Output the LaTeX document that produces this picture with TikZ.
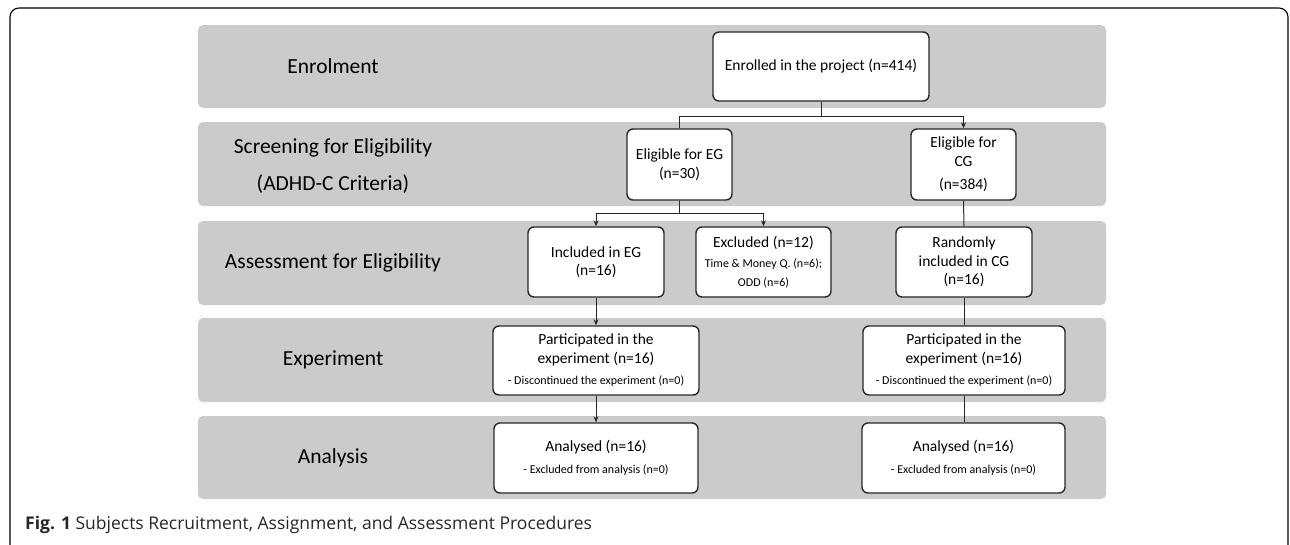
\documentclass[tikz,border=0pt]{standalone}
\usepackage{fontspec}
\setmainfont{Carlito}
\newfontfamily\capfont{Open Sans}
\usetikzlibrary{arrows.meta}
\definecolor{bandgray}{RGB}{203,203,203}
\definecolor{linegray}{RGB}{40,40,40}
\tikzset{
  band/.style={fill=bandgray, draw=none, rounded corners=5pt},
  bandlabel/.style={font=\fontsize{21.5}{26}\selectfont, align=center, text=black},
  box/.style={draw=linegray, line width=1.4pt, fill=white, rounded corners=6pt, align=center, inner sep=0pt, font=\fontsize{15.5}{18.5}\selectfont},
  conn/.style={draw=linegray, line width=1pt},
  arr/.style={conn, -{Stealth[length=6pt,width=5pt]}}
}
\newcommand{\sm}{\fontsize{12}{14}\selectfont}
\begin{document}
\begin{tikzpicture}[x=1pt,y=-1pt]
\useasboundingbox (0,0) rectangle (1290,544);
% outer frame
\draw[line width=1.1pt, rounded corners=9pt] (10,546) -- (10,8) -- (1288,8) -- (1288,546);
% bands
\path[band] (198,25) rectangle (1106,108);
\path[band] (198,122) rectangle (1106,206);
\path[band] (198,221) rectangle (1106,305);
\path[band] (198,318) rectangle (1106,402);
\path[band] (198,416) rectangle (1106,499);
% band labels
\node[bandlabel] (l1) at (333,66) {Enrolment};
\node[bandlabel] (l2) at (333,166) {Screening for Eligibility\\[11pt](ADHD-C Criteria)};
\node[bandlabel] (l3) at (333,263) {Assessment for Eligibility};
\node[bandlabel] (l4) at (333,360) {Experiment};
\node[bandlabel] (l5) at (333,458) {Analysis};
% boxes
\node[box, minimum width=216pt, minimum height=69pt] (enr) at (821,66.5) {Enrolled in the project (n=414)};
\node[box, minimum width=105pt, minimum height=71pt] (eg) at (679.5,164.5) {Eligible for EG\\(n=30)};
\node[box, minimum width=105pt, minimum height=71pt] (cg) at (963.5,164.5) {Eligible for\\CG\\[5pt](n=384)};
\node[box, minimum width=136pt, minimum height=70pt] (inc) at (596,262) {Included in EG\\(n=16)};
\node[box, minimum width=135pt, minimum height=70pt] (exc) at (763.5,262) {Excluded (n=12)\\[2pt]{\sm Time \& Money Q. (n=6);}\\{\sm ODD (n=6)}};
\node[box, minimum width=136pt, minimum height=70pt] (rnd) at (964,262) {Randomly\\included in CG\\(n=16)};
\node[box, minimum width=206pt, minimum height=69pt] (pe) at (596,360.5) {Participated in the\\experiment (n=16)\\[3pt]{\sm - Discontinued the experiment (n=0)}};
\node[box, minimum width=202pt, minimum height=69pt] (pc) at (964,360.5) {Participated in the\\experiment (n=16)\\[3pt]{\sm - Discontinued the experiment (n=0)}};
\node[box, minimum width=204pt, minimum height=70pt] (ae) at (596,458) {Analysed (n=16)\\[4pt]{\sm - Excluded from analysis (n=0)}};
\node[box, minimum width=203pt, minimum height=70pt] (ac) at (963.5,458) {Analysed (n=16)\\[4pt]{\sm - Excluded from analysis (n=0)}};
% connectors
\coordinate (j1) at (821,116);
\coordinate (j2) at (679.5,213);
\draw[conn] (enr.south) -- (j1) -| (eg.north);
\draw[arr] (j1) -| (cg.north);
\draw[conn] (eg.south) -- (j2);
\draw[arr] (j2) -| (inc.north);
\draw[arr] (j2) -| (exc.north);
\draw[conn] (cg.south) -- (rnd.north);
\draw[arr] (inc.south) -- (pe.north);
\draw[conn] (rnd.south) -- (pc.north);
\draw[arr] (pe.south) -- (ae.north);
\draw[conn] (pc.south) -- (pc.south |- ac.north);
% caption
\node[anchor=west, inner sep=0pt, font=\capfont\fontsize{17.5}{21}\selectfont, text=black!85] (cap) at (25,525) {\textbf{Fig. 1} Subjects Recruitment, Assignment, and Assessment Procedures};
\end{tikzpicture}
\end{document}
